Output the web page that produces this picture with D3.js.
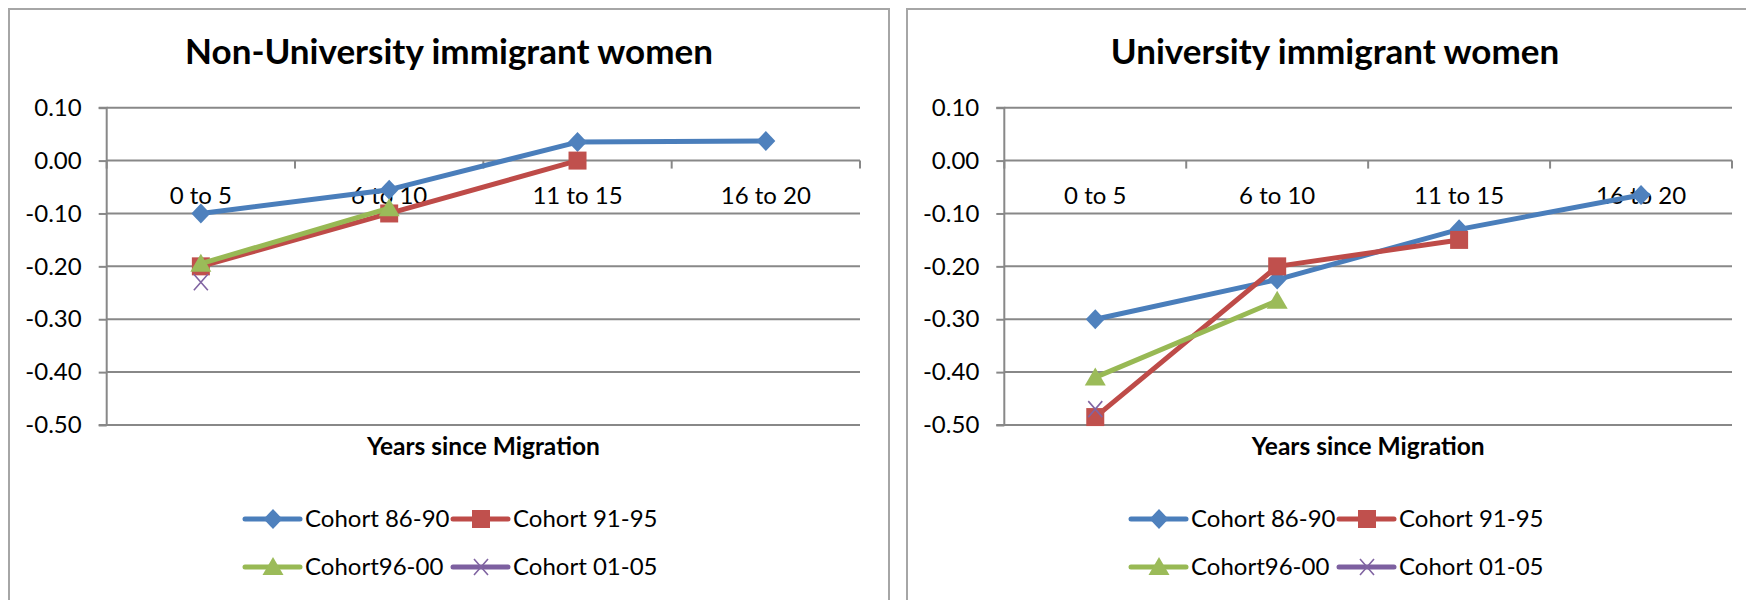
<!DOCTYPE html>
<html>
<head>
<meta charset="utf-8">
<script src="https://cdn.jsdelivr.net/npm/d3@7"></script>
<style>
  html, body { margin: 0; padding: 0; background: #fff; }
  svg { display: block; }
  text { font-family: Lato, "Open Sans", sans-serif; fill: #000; }
</style>
</head>
<body>
<svg id="chart" width="1746" height="600"></svg>
<script>
// Categories and tick values
const categories = ["0 to 5", "6 to 10", "11 to 15", "16 to 20"];
const yTickValues = [0.10, 0.00, -0.10, -0.20, -0.30, -0.40, -0.50];
const seriesNames = ["Cohort 86-90", "Cohort 91-95", "Cohort96-00", "Cohort 01-05"];

// Non-university immigrant women
const nonUniCohort8690 = [-0.100, -0.055, 0.035, 0.037];
const nonUniCohort9195 = [-0.200, -0.100, 0.000, null];
const nonUniCohort9600 = [-0.195, -0.090, null, null];
const nonUniCohort0105 = [-0.230, null, null, null];

// University immigrant women
const uniCohort8690 = [-0.300, -0.225, -0.130, -0.065];
const uniCohort9195 = [-0.485, -0.200, -0.150, null];
const uniCohort9600 = [-0.410, -0.265, null, null];
const uniCohort0105 = [-0.470, null, null, null];

const lineColors = ["#4A7EBB", "#BE4B48", "#98B954", "#7D60A0"];
const markerColors = ["#4F81BD", "#C0504D", "#9BBB59", "#8064A2"];
const markerTypes = ["diamond", "square", "triangle", "cross"];

const svg = d3.select("#chart");
const fmt = d3.format(".2f");
const tickFmt = d => fmt(d).replace("\u2212", "-");

function markerPath(type) {
  switch (type) {
    case "diamond": return "M0,-10L9.5,0L0,10L-9.5,0Z";
    case "square": return "M-9,-9H9V9H-9Z";
    case "triangle": return "M0,-10L10.5,8H-10.5Z";
    case "cross": return "M-7,-8L7,8M7,-8L-7,8";
  }
}

function drawMarker(g, type, i, x, y) {
  const p = g.append("path")
    .attr("d", markerPath(type))
    .attr("transform", `translate(${x},${y})`);
  if (type === "cross") {
    p.attr("fill", "none").attr("stroke", markerColors[i]).attr("stroke-width", 1.6);
  } else {
    p.attr("fill", markerColors[i]).attr("stroke", "none");
  }
}

function drawPanel(opts) {
  const { frame, plot, title, series } = opts;
  const g = svg.append("g");

  // outer chart frame
  g.append("rect")
    .attr("x", frame.x).attr("y", frame.y)
    .attr("width", frame.w).attr("height", frame.h)
    .attr("fill", "#fff").attr("stroke", "#a6a6a6").attr("stroke-width", 2);

  // title
  g.append("text")
    .attr("x", frame.x + frame.w0 / 2).attr("y", 64)
    .attr("text-anchor", "middle")
    .attr("font-weight", "bold").attr("font-size", 35)
    .text(title);

  const x = d3.scaleBand().domain(categories).range([plot.left, plot.right]).padding(0);
  const y = d3.scaleLinear().domain([-0.5, 0.1]).range([plot.bottom, plot.top]);

  // horizontal gridlines
  g.append("g").selectAll("line").data(yTickValues).join("line")
    .attr("x1", plot.left).attr("x2", plot.right)
    .attr("y1", d => y(d)).attr("y2", d => y(d))
    .attr("stroke", "#888").attr("stroke-width", 2);

  // value axis
  const yAxis = d3.axisLeft(y).tickValues(yTickValues).tickFormat(tickFmt)
    .tickSize(8).tickPadding(17);
  const ya = g.append("g").attr("transform", `translate(${plot.left},0)`).call(yAxis);
  ya.select(".domain").attr("stroke", "#888").attr("stroke-width", 2)
    .attr("d", `M-8,${y(0.1)}H0V${y(-0.5)}H-8`);
  ya.selectAll(".tick line").attr("stroke", "#888").attr("stroke-width", 2);
  ya.selectAll(".tick text").attr("font-size", 24).attr("font-family", "Lato, sans-serif").attr("fill", "#000");

  // category axis crossing at zero
  const xa = d3.axisBottom(x).tickSize(0).tickPadding(0);
  const xg = g.append("g").attr("transform", `translate(0,${y(0)})`).call(xa);
  xg.select(".domain").remove();
  xg.selectAll(".tick text")
    .attr("font-size", 24).attr("font-family", "Lato, sans-serif").attr("fill", "#000")
    .attr("dy", null).attr("y", 43);
  const bounds = categories.map(c => x(c) + x.bandwidth()).concat([x(categories[0])]);
  g.append("g").selectAll("line").data(bounds).join("line")
    .attr("x1", d => d).attr("x2", d => d)
    .attr("y1", y(0)).attr("y2", y(0) + 8)
    .attr("stroke", "#888").attr("stroke-width", 2);

  // axis title
  g.append("text")
    .attr("x", (plot.left + plot.right) / 2).attr("y", 455)
    .attr("text-anchor", "middle").attr("font-weight", "bold").attr("font-size", 24.5)
    .text("Years since Migration");

  // series lines and markers
  const cx = c => x(c) + x.bandwidth() / 2;
  series.forEach((vals, i) => {
    const pts = vals.map((v, k) => ({ c: categories[k], v })).filter(d => d.v !== null);
    const line = d3.line().x(d => cx(d.c)).y(d => y(d.v));
    if (pts.length > 1) {
      g.append("path").datum(pts).attr("d", line)
        .attr("fill", "none").attr("stroke", lineColors[i]).attr("stroke-width", 5)
        .attr("stroke-linejoin", "round").attr("stroke-linecap", "round");
    }
    const mg = g.append("g");
    pts.forEach(d => drawMarker(mg, markerTypes[i], i, cx(d.c), y(d.v)));
  });

  // legend, two rows of two entries
  const legendLeft = frame.x + frame.w0 / 2 - 204;
  seriesNames.forEach((name, i) => {
    const lx = legendLeft + (i % 2) * 208;
    const ly = i < 2 ? 519 : 567;
    const lg = g.append("g");
    lg.append("line").attr("x1", lx).attr("x2", lx + 55).attr("y1", ly).attr("y2", ly)
      .attr("stroke", lineColors[i]).attr("stroke-width", 5).attr("stroke-linecap", "round");
    drawMarker(lg, markerTypes[i], i, lx + 28, ly);
    lg.append("text").attr("x", lx + 60).attr("y", ly).attr("dy", "0.35em")
      .attr("font-size", 24).text(name);
  });
}

drawPanel({
  frame: { x: 9, y: 9, w: 880, h: 620, w0: 880 },
  plot: { left: 106.7, right: 860, top: 107.7, bottom: 425 },
  title: "Non-University immigrant women",
  series: [nonUniCohort8690, nonUniCohort9195, nonUniCohort9600, nonUniCohort0105]
});

drawPanel({
  frame: { x: 907, y: 9, w: 880, h: 620, w0: 856 },
  plot: { left: 1004.3, right: 1732, top: 107.7, bottom: 425 },
  title: "University immigrant women",
  series: [uniCohort8690, uniCohort9195, uniCohort9600, uniCohort0105]
});
</script>
</body>
</html>
